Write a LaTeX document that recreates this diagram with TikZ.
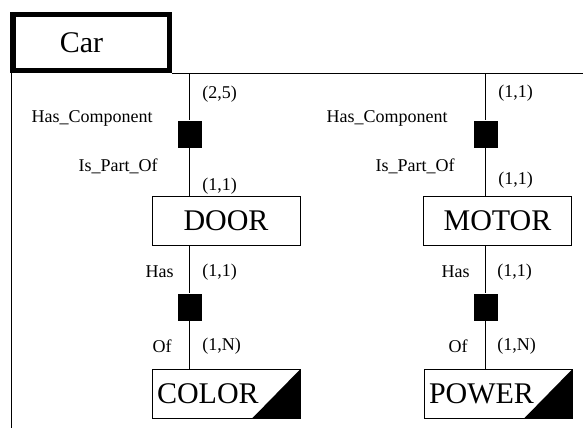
\documentclass[tikz,border=0pt]{standalone}
\usepackage{fontspec}
\setmainfont{Liberation Serif}
\begin{document}
\begin{tikzpicture}[x=1pt, y=-1pt, thick,
    entity/.style={draw, minimum width=148, minimum height=49, inner sep=0pt,
      font=\fontsize{30}{30}\selectfont},
    weak/.style={entity, inner xsep=5pt, text width=138pt, align=left,
      path picture={\fill (path picture bounding box.south east) -- ++(-48,0)
        -- (path picture bounding box.north east) -- cycle;}},
    link/.style={fill, minimum width=24, minimum height=27, inner sep=0pt},
    role/.style={font=\fontsize{18}{18}\selectfont, inner sep=0pt}]
      \useasboundingbox (0, 0) rectangle (583, 428);
      \node [draw, line width=5.5pt, minimum height=55.5, inner xsep=47pt,
        text width=62.5pt, align=left, font=\fontsize{30}{30}\selectfont]
        (car) at (91, 42.5) {Car};
      \coordinate (east) at (583, 73);
      \coordinate (floor) at (11, 428);
      \draw (car.south east) -- (east);
      \draw (car.south west -| floor) -- (floor);

      \node [entity] (door) at (226, 221) {DOOR};
      \node [entity] (motor) at (497.5, 221) {MOTOR};
      \node [weak] (color) at (226, 394) {COLOR};
      \node [weak] (power) at (498, 394) {POWER};

      \node [link] (doorpart) at (189.5, 134) {};
      \node [link] (motorpart) at (485.5, 134) {};
      \node [link] (colorof) at (189.5, 307) {};
      \node [link] (powerof) at (485.5, 307) {};

      \draw (doorpart |- east) -- (doorpart) -- (doorpart |- door.north);
      \draw (motorpart |- east) -- (motorpart) -- (motorpart |- motor.north);
      \draw (colorof |- door.south) -- (colorof) -- (colorof |- color.north);
      \draw (powerof |- motor.south) -- (powerof) -- (powerof |- power.north);

      \node [role, anchor=west] at (202, 94) {(2,5)};
      \node [role, anchor=east] at (153, 118) {Has\_Component};
      \node [role, anchor=east] at (158, 166) {Is\_Part\_Of};
      \node [role, anchor=west] at (202, 186) {(1,1)};
      \node [role, anchor=west] at (498, 93) {(1,1)};
      \node [role, anchor=east] at (448, 118) {Has\_Component};
      \node [role, anchor=east] at (455, 166) {Is\_Part\_Of};
      \node [role, anchor=west] at (498, 180) {(1,1)};

      \node [role, anchor=east] at (174, 272) {Has};
      \node [role, anchor=west] at (202, 272) {(1,1)};
      \node [role, anchor=east] at (172, 346) {Of};
      \node [role, anchor=west] at (202, 346) {(1,N)};
      \node [role, anchor=east] at (470, 272) {Has};
      \node [role, anchor=west] at (497, 272) {(1,1)};
      \node [role, anchor=east] at (468, 346) {Of};
      \node [role, anchor=west] at (497, 346) {(1,N)};
\end{tikzpicture}
\end{document}
